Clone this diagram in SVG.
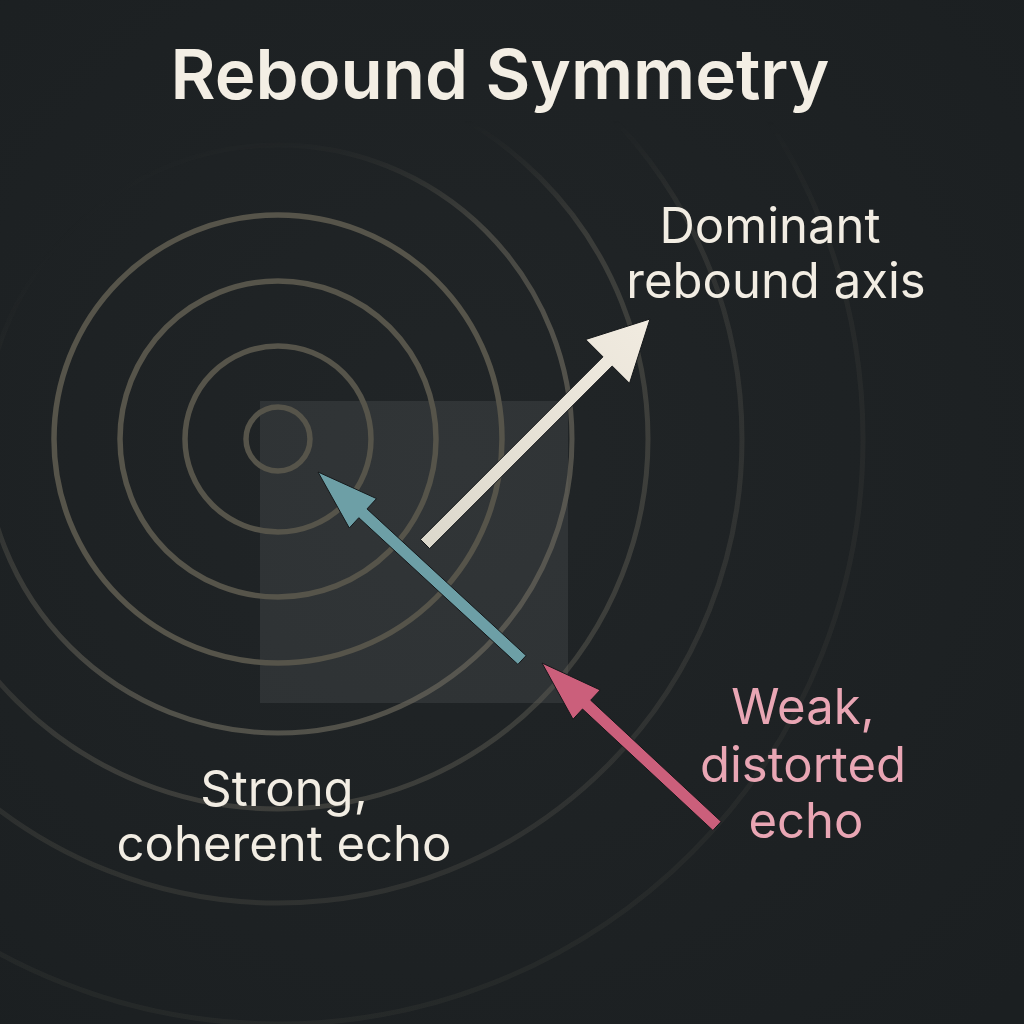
<svg xmlns="http://www.w3.org/2000/svg" width="1024" height="1024" viewBox="0 0 1024 1024">
  <defs>
    <linearGradient id="fade" gradientUnits="userSpaceOnUse" x1="100" y1="100" x2="500" y2="500">
      <stop offset="0.12" stop-color="#6a675c" stop-opacity="0"/>
      <stop offset="0.5" stop-color="#6a675c" stop-opacity="0.55"/>
      <stop offset="0.85" stop-color="#6a675c" stop-opacity="1"/>
    </linearGradient>
    <linearGradient id="topFade" gradientUnits="userSpaceOnUse" x1="0" y1="120" x2="0" y2="230">
      <stop offset="0" stop-color="#fff" stop-opacity="0"/>
      <stop offset="1" stop-color="#fff" stop-opacity="1"/>
    </linearGradient>
    <mask id="outerMask" maskUnits="userSpaceOnUse" x="0" y="0" width="1024" height="1024">
      <rect width="1024" height="1024" fill="url(#topFade)"/>
    </mask>
    <linearGradient id="creamGrad" gradientUnits="userSpaceOnUse" x1="425" y1="544" x2="650" y2="319">
      <stop offset="0" stop-color="#dcd8cc"/>
      <stop offset="1" stop-color="#f1ebe0"/>
    </linearGradient>
    <radialGradient id="bgGrad" cx="0.45" cy="0.45" r="0.75">
      <stop offset="0" stop-color="#212527"/>
      <stop offset="1" stop-color="#1b1f21"/>
    </radialGradient>
    <style>
      .ring { fill: none; stroke: #56544a; stroke-width: 5.5; }
      .outer { fill: none; stroke: url(#fade); stroke-width: 5; }
      .arrow { stroke: #15181a; stroke-width: 1; stroke-linejoin: miter; }
      .lbl { font-family: Inter, "Noto Sans", "Liberation Sans", sans-serif; font-size: 49px; text-anchor: middle; }
      .cream { fill: #f2ede3; }
      .pink { fill: #e9a6b4; }
    </style>
  </defs>

  <rect width="1024" height="1024" fill="url(#bgGrad)"/>

  <g id="title">
    <text x="500" y="99" font-family="Inter, 'Noto Sans', 'Liberation Sans', sans-serif" font-size="69" font-weight="600" text-anchor="middle" fill="#f3eee4">Rebound Symmetry</text>
  </g>

  <g id="backdrop">
    <rect x="260" y="401" width="308" height="302" fill="#ffffff" fill-opacity="0.075"/>
  </g>

  <g id="rings">
    <g id="outer-rings" mask="url(#outerMask)">
      <circle class="outer" cx="278" cy="439" r="585" opacity="0.12"/>
      <circle class="outer" cx="278" cy="439" r="464" opacity="0.24"/>
      <circle class="outer" cx="278" cy="439" r="370" opacity="0.4"/>
      <circle class="outer" cx="278" cy="439" r="294" opacity="0.68"/>
    </g>
    <circle class="ring" cx="278" cy="439" r="224"/>
    <circle class="ring" cx="278" cy="439" r="158"/>
    <circle class="ring" cx="278" cy="439" r="93"/>
    <circle class="ring" cx="278" cy="439" r="32"/>
  </g>

  <g id="connectors">
    <polygon id="dominant-arrow" class="arrow" fill="url(#creamGrad)" points="420.4,539.4 603.0,356.8 585.7,339.5 650,319 629.5,383.3 612.2,366.0 429.6,548.6"/>
    <polygon id="strong-arrow" class="arrow" fill="#6d9fa6" points="526.1,655.6 367.0,508.9 376.5,498.6 318,472 349.3,528.0 358.8,517.7 517.9,664.4"/>
    <polygon id="weak-arrow" class="arrow" fill="#cb5f7b" points="721.1,821.6 590.7,700.2 600.2,690.0 542,663 573.0,719.2 582.5,709.0 712.9,830.4"/>
  </g>

  <g id="label-dominant">
    <text class="lbl cream" x="770" y="243">Dominant</text>
    <text class="lbl cream" x="776" y="298">rebound axis</text>
  </g>
  <g id="label-strong">
    <text class="lbl cream" x="284" y="806">Strong,</text>
    <text class="lbl cream" x="284" y="861">coherent echo</text>
  </g>
  <g id="label-weak">
    <text class="lbl pink" x="803" y="724">Weak,</text>
    <text class="lbl pink" x="803" y="782">distorted</text>
    <text class="lbl pink" x="806" y="838">echo</text>
  </g>
</svg>
